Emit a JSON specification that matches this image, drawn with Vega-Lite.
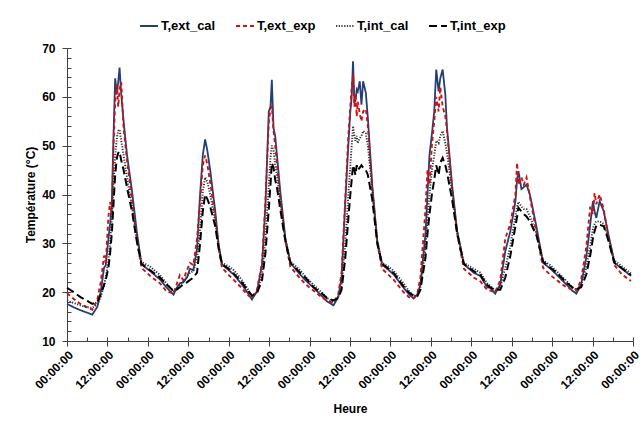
{
  "$schema": "https://vega.github.io/schema/vega-lite/v6.json",
  "width": 566,
  "height": 293,
  "autosize": "none",
  "padding": {"left": 67, "top": 48, "right": 10, "bottom": 89},
  "background": "white",
  "config": {
    "view": {"stroke": null},
    "axis": {
      "labelFont": "Liberation Sans", "labelFontWeight": "bold", "labelFontSize": 12, "labelColor": "black",
      "titleFont": "Liberation Sans", "titleFontWeight": "bold", "titleFontSize": 12, "titleColor": "black",
      "domainColor": "#404040", "tickColor": "#404040", "grid": false
    },
    "legend": {"labelFont": "Liberation Sans", "labelFontWeight": "bold", "labelFontSize": 13, "labelColor": "black"}
  },
  "data": {"values": [
    {"h":0,"T,ext_cal":17.6,"T,ext_exp":19.8,"T,int_cal":18.3,"T,int_exp":20.9},
    {"h":2,"T,ext_cal":16.9,"T,ext_exp":18.6,"T,int_cal":17.8,"T,int_exp":20.0},
    {"h":4,"T,ext_cal":16.3,"T,ext_exp":17.6,"T,int_cal":17.3,"T,int_exp":19.0},
    {"h":6,"T,ext_cal":15.8,"T,ext_exp":16.9,"T,int_cal":16.9,"T,int_exp":18.2},
    {"h":7.5,"T,ext_cal":15.4,"T,ext_exp":16.4,"T,int_cal":16.8,"T,int_exp":17.6},
    {"h":9,"T,ext_cal":17.0,"T,ext_exp":18.5,"T,int_cal":17.5,"T,int_exp":18.0},
    {"h":10,"T,ext_cal":20.0,"T,ext_exp":22.0,"T,int_cal":19.0,"T,int_exp":19.5},
    {"h":11,"T,ext_cal":25.0,"T,ext_exp":27.5,"T,int_cal":21.5,"T,int_exp":21.5},
    {"h":11.5,"T,ext_cal":25.5,"T,ext_exp":26.0,"T,int_cal":23.0,"T,int_exp":22.5},
    {"h":12.3,"T,ext_cal":31.0,"T,ext_exp":35.5,"T,int_cal":26.5,"T,int_exp":25.0},
    {"h":12.8,"T,ext_cal":34.0,"T,ext_exp":38.5,"T,int_cal":30.0,"T,int_exp":28.0},
    {"h":13.3,"T,ext_cal":38.0,"T,ext_exp":36.0,"T,int_cal":35.0,"T,int_exp":32.0},
    {"h":13.8,"T,ext_cal":52.0,"T,ext_exp":50.0,"T,int_cal":42.0,"T,int_exp":38.0},
    {"h":14.3,"T,ext_cal":63.8,"T,ext_exp":59.0,"T,int_cal":48.0,"T,int_exp":44.0},
    {"h":14.8,"T,ext_cal":60.5,"T,ext_exp":62.5,"T,int_cal":51.5,"T,int_exp":47.5},
    {"h":15.2,"T,ext_cal":63.0,"T,ext_exp":58.0,"T,int_cal":53.0,"T,int_exp":48.5},
    {"h":15.6,"T,ext_cal":66.0,"T,ext_exp":61.5,"T,int_cal":53.3,"T,int_exp":48.8},
    {"h":16.1,"T,ext_cal":60.5,"T,ext_exp":63.0,"T,int_cal":51.0,"T,int_exp":47.0},
    {"h":16.8,"T,ext_cal":55.0,"T,ext_exp":53.5,"T,int_cal":48.0,"T,int_exp":45.0},
    {"h":17.8,"T,ext_cal":48.2,"T,ext_exp":47.0,"T,int_cal":43.5,"T,int_exp":41.5},
    {"h":19.3,"T,ext_cal":40.7,"T,ext_exp":39.0,"T,int_cal":37.5,"T,int_exp":36.5},
    {"h":20.7,"T,ext_cal":32.5,"T,ext_exp":31.0,"T,int_cal":31.0,"T,int_exp":30.5},
    {"h":22.1,"T,ext_cal":25.7,"T,ext_exp":25.0,"T,int_cal":26.2,"T,int_exp":25.8},
    {"h":24.7,"T,ext_cal":24.3,"T,ext_exp":23.3,"T,int_cal":25.2,"T,int_exp":24.5},
    {"h":27.6,"T,ext_cal":22.6,"T,ext_exp":21.8,"T,int_cal":23.5,"T,int_exp":23.0},
    {"h":29.5,"T,ext_cal":21.0,"T,ext_exp":20.2,"T,int_cal":21.8,"T,int_exp":21.6},
    {"h":31.6,"T,ext_cal":19.5,"T,ext_exp":19.7,"T,int_cal":20.0,"T,int_exp":20.3},
    {"h":32.5,"T,ext_cal":20.8,"T,ext_exp":21.5,"T,int_cal":20.7,"T,int_exp":20.5},
    {"h":33.5,"T,ext_cal":21.8,"T,ext_exp":23.5,"T,int_cal":21.5,"T,int_exp":21.0},
    {"h":34.5,"T,ext_cal":22.0,"T,ext_exp":22.5,"T,int_cal":22.2,"T,int_exp":21.6},
    {"h":35.6,"T,ext_cal":23.0,"T,ext_exp":24.5,"T,int_cal":23.2,"T,int_exp":22.0},
    {"h":36.5,"T,ext_cal":24.8,"T,ext_exp":26.0,"T,int_cal":24.0,"T,int_exp":22.5},
    {"h":37.5,"T,ext_cal":24.5,"T,ext_exp":25.5,"T,int_cal":24.3,"T,int_exp":23.0},
    {"h":38.6,"T,ext_cal":29.0,"T,ext_exp":31.0,"T,int_cal":27.0,"T,int_exp":24.0},
    {"h":39.5,"T,ext_cal":40.0,"T,ext_exp":38.5,"T,int_cal":33.0,"T,int_exp":30.0},
    {"h":40.3,"T,ext_cal":48.0,"T,ext_exp":46.0,"T,int_cal":40.5,"T,int_exp":36.5},
    {"h":41.0,"T,ext_cal":51.3,"T,ext_exp":48.0,"T,int_cal":43.5,"T,int_exp":40.0},
    {"h":41.7,"T,ext_cal":48.8,"T,ext_exp":46.0,"T,int_cal":42.5,"T,int_exp":39.0},
    {"h":42.5,"T,ext_cal":45.0,"T,ext_exp":42.5,"T,int_cal":40.0,"T,int_exp":37.5},
    {"h":44.0,"T,ext_cal":36.6,"T,ext_exp":35.5,"T,int_cal":34.5,"T,int_exp":33.5},
    {"h":45.0,"T,ext_cal":29.8,"T,ext_exp":29.0,"T,int_cal":29.5,"T,int_exp":29.0},
    {"h":46.0,"T,ext_cal":25.7,"T,ext_exp":25.0,"T,int_cal":26.0,"T,int_exp":25.7},
    {"h":48.0,"T,ext_cal":24.5,"T,ext_exp":23.5,"T,int_cal":25.3,"T,int_exp":24.8},
    {"h":49.5,"T,ext_cal":23.6,"T,ext_exp":22.5,"T,int_cal":24.5,"T,int_exp":23.8},
    {"h":51.9,"T,ext_cal":21.6,"T,ext_exp":20.8,"T,int_cal":22.5,"T,int_exp":22.0},
    {"h":53.5,"T,ext_cal":20.0,"T,ext_exp":19.5,"T,int_cal":20.8,"T,int_exp":20.5},
    {"h":54.9,"T,ext_cal":18.5,"T,ext_exp":18.8,"T,int_cal":19.2,"T,int_exp":19.3},
    {"h":56.4,"T,ext_cal":20.2,"T,ext_exp":20.5,"T,int_cal":20.0,"T,int_exp":19.8},
    {"h":57.9,"T,ext_cal":25.7,"T,ext_exp":26.0,"T,int_cal":23.5,"T,int_exp":22.5},
    {"h":58.9,"T,ext_cal":37.9,"T,ext_exp":38.5,"T,int_cal":31.0,"T,int_exp":28.0},
    {"h":59.9,"T,ext_cal":57.0,"T,ext_exp":55.0,"T,int_cal":42.0,"T,int_exp":37.0},
    {"h":60.4,"T,ext_cal":58.0,"T,ext_exp":57.5,"T,int_cal":47.5,"T,int_exp":42.0},
    {"h":60.8,"T,ext_cal":63.5,"T,ext_exp":58.0,"T,int_cal":50.0,"T,int_exp":46.5},
    {"h":61.3,"T,ext_cal":53.6,"T,ext_exp":53.0,"T,int_cal":49.0,"T,int_exp":45.5},
    {"h":61.8,"T,ext_cal":52.0,"T,ext_exp":50.0,"T,int_cal":46.0,"T,int_exp":43.0},
    {"h":62.3,"T,ext_cal":48.2,"T,ext_exp":46.5,"T,int_cal":44.0,"T,int_exp":41.5},
    {"h":63.3,"T,ext_cal":40.7,"T,ext_exp":39.5,"T,int_cal":38.5,"T,int_exp":37.0},
    {"h":64.8,"T,ext_cal":31.1,"T,ext_exp":30.5,"T,int_cal":31.0,"T,int_exp":30.5},
    {"h":66.3,"T,ext_cal":26.0,"T,ext_exp":25.2,"T,int_cal":26.3,"T,int_exp":26.0},
    {"h":69.2,"T,ext_cal":23.6,"T,ext_exp":22.8,"T,int_cal":24.5,"T,int_exp":24.0},
    {"h":71.0,"T,ext_cal":22.3,"T,ext_exp":21.5,"T,int_cal":23.0,"T,int_exp":22.8},
    {"h":73.2,"T,ext_cal":20.9,"T,ext_exp":20.3,"T,int_cal":21.5,"T,int_exp":21.0},
    {"h":75.5,"T,ext_cal":19.3,"T,ext_exp":19.0,"T,int_cal":20.0,"T,int_exp":19.8},
    {"h":77.2,"T,ext_cal":18.1,"T,ext_exp":18.2,"T,int_cal":18.8,"T,int_exp":18.8},
    {"h":79.1,"T,ext_cal":17.3,"T,ext_exp":17.8,"T,int_cal":18.0,"T,int_exp":18.3},
    {"h":80.5,"T,ext_cal":19.0,"T,ext_exp":19.5,"T,int_cal":19.0,"T,int_exp":18.8},
    {"h":81.5,"T,ext_cal":23.0,"T,ext_exp":24.0,"T,int_cal":21.5,"T,int_exp":20.5},
    {"h":82.6,"T,ext_cal":38.6,"T,ext_exp":39.0,"T,int_cal":30.0,"T,int_exp":27.0},
    {"h":83.5,"T,ext_cal":50.0,"T,ext_exp":52.0,"T,int_cal":40.0,"T,int_exp":35.0},
    {"h":84.1,"T,ext_cal":57.0,"T,ext_exp":58.0,"T,int_cal":46.0,"T,int_exp":40.0},
    {"h":84.5,"T,ext_cal":60.0,"T,ext_exp":62.0,"T,int_cal":50.0,"T,int_exp":43.0},
    {"h":84.9,"T,ext_cal":67.3,"T,ext_exp":64.5,"T,int_cal":54.0,"T,int_exp":46.0},
    {"h":85.3,"T,ext_cal":59.0,"T,ext_exp":58.0,"T,int_cal":52.0,"T,int_exp":45.0},
    {"h":85.6,"T,ext_cal":59.1,"T,ext_exp":60.5,"T,int_cal":51.0,"T,int_exp":44.0},
    {"h":86.0,"T,ext_cal":61.5,"T,ext_exp":56.0,"T,int_cal":52.0,"T,int_exp":46.0},
    {"h":86.3,"T,ext_cal":61.1,"T,ext_exp":59.0,"T,int_cal":50.5,"T,int_exp":45.0},
    {"h":86.9,"T,ext_cal":63.2,"T,ext_exp":56.5,"T,int_cal":51.5,"T,int_exp":45.5},
    {"h":87.4,"T,ext_cal":58.4,"T,ext_exp":55.0,"T,int_cal":52.0,"T,int_exp":46.0},
    {"h":87.9,"T,ext_cal":63.2,"T,ext_exp":57.0,"T,int_cal":53.0,"T,int_exp":45.5},
    {"h":88.7,"T,ext_cal":60.8,"T,ext_exp":57.5,"T,int_cal":52.5,"T,int_exp":45.0},
    {"h":89.3,"T,ext_cal":55.7,"T,ext_exp":54.0,"T,int_cal":50.0,"T,int_exp":44.0},
    {"h":90.6,"T,ext_cal":42.0,"T,ext_exp":41.0,"T,int_cal":41.0,"T,int_exp":39.0},
    {"h":92.1,"T,ext_cal":30.4,"T,ext_exp":30.0,"T,int_cal":30.5,"T,int_exp":30.0},
    {"h":93.5,"T,ext_cal":25.7,"T,ext_exp":24.8,"T,int_cal":26.0,"T,int_exp":25.8},
    {"h":95.5,"T,ext_cal":24.5,"T,ext_exp":23.5,"T,int_cal":25.2,"T,int_exp":24.8},
    {"h":97.0,"T,ext_cal":23.6,"T,ext_exp":22.5,"T,int_cal":24.3,"T,int_exp":23.9},
    {"h":99.9,"T,ext_cal":20.9,"T,ext_exp":20.0,"T,int_cal":21.8,"T,int_exp":21.2},
    {"h":101.5,"T,ext_cal":19.6,"T,ext_exp":19.0,"T,int_cal":20.2,"T,int_exp":19.9},
    {"h":102.9,"T,ext_cal":18.7,"T,ext_exp":18.8,"T,int_cal":19.2,"T,int_exp":19.3},
    {"h":104.0,"T,ext_cal":19.5,"T,ext_exp":19.8,"T,int_cal":19.5,"T,int_exp":19.2},
    {"h":104.9,"T,ext_cal":21.6,"T,ext_exp":23.0,"T,int_cal":21.0,"T,int_exp":20.5},
    {"h":106.4,"T,ext_cal":31.8,"T,ext_exp":37.0,"T,int_cal":29.0,"T,int_exp":27.0},
    {"h":107.0,"T,ext_cal":40.0,"T,ext_exp":45.0,"T,int_cal":35.0,"T,int_exp":32.0},
    {"h":107.6,"T,ext_cal":48.2,"T,ext_exp":42.0,"T,int_cal":40.0,"T,int_exp":36.0},
    {"h":108.3,"T,ext_cal":52.3,"T,ext_exp":50.0,"T,int_cal":45.0,"T,int_exp":40.0},
    {"h":109.0,"T,ext_cal":57.0,"T,ext_exp":55.0,"T,int_cal":48.0,"T,int_exp":43.0},
    {"h":109.6,"T,ext_cal":65.6,"T,ext_exp":60.0,"T,int_cal":51.0,"T,int_exp":46.0},
    {"h":110.3,"T,ext_cal":61.1,"T,ext_exp":57.0,"T,int_cal":50.5,"T,int_exp":44.0},
    {"h":110.8,"T,ext_cal":63.8,"T,ext_exp":62.0,"T,int_cal":52.0,"T,int_exp":46.5},
    {"h":111.5,"T,ext_cal":65.6,"T,ext_exp":58.0,"T,int_cal":53.0,"T,int_exp":47.5},
    {"h":112.3,"T,ext_cal":60.4,"T,ext_exp":56.0,"T,int_cal":50.5,"T,int_exp":46.0},
    {"h":112.8,"T,ext_cal":53.6,"T,ext_exp":53.0,"T,int_cal":48.5,"T,int_exp":44.5},
    {"h":114.3,"T,ext_cal":42.0,"T,ext_exp":41.0,"T,int_cal":40.5,"T,int_exp":39.0},
    {"h":115.8,"T,ext_cal":32.5,"T,ext_exp":32.0,"T,int_cal":32.5,"T,int_exp":32.0},
    {"h":117.8,"T,ext_cal":25.7,"T,ext_exp":24.8,"T,int_cal":26.0,"T,int_exp":25.8},
    {"h":120.7,"T,ext_cal":24.0,"T,ext_exp":23.0,"T,int_cal":24.8,"T,int_exp":24.3},
    {"h":122.7,"T,ext_cal":23.3,"T,ext_exp":22.2,"T,int_cal":24.0,"T,int_exp":23.5},
    {"h":124.7,"T,ext_cal":21.0,"T,ext_exp":20.5,"T,int_cal":21.8,"T,int_exp":21.5},
    {"h":125.6,"T,ext_cal":20.9,"T,ext_exp":20.3,"T,int_cal":21.3,"T,int_exp":21.0},
    {"h":127.1,"T,ext_cal":19.7,"T,ext_exp":20.0,"T,int_cal":20.3,"T,int_exp":20.5},
    {"h":128.6,"T,ext_cal":21.6,"T,ext_exp":22.5,"T,int_cal":21.0,"T,int_exp":20.5},
    {"h":130.1,"T,ext_cal":28.4,"T,ext_exp":31.0,"T,int_cal":25.0,"T,int_exp":23.0},
    {"h":131.6,"T,ext_cal":32.5,"T,ext_exp":34.0,"T,int_cal":29.5,"T,int_exp":27.5},
    {"h":133.1,"T,ext_cal":38.6,"T,ext_exp":40.0,"T,int_cal":35.5,"T,int_exp":33.5},
    {"h":133.6,"T,ext_cal":43.0,"T,ext_exp":46.5,"T,int_cal":37.5,"T,int_exp":35.5},
    {"h":134.0,"T,ext_cal":44.8,"T,ext_exp":42.0,"T,int_cal":38.5,"T,int_exp":37.3},
    {"h":134.9,"T,ext_cal":41.1,"T,ext_exp":43.5,"T,int_cal":37.5,"T,int_exp":36.5},
    {"h":135.6,"T,ext_cal":41.5,"T,ext_exp":42.0,"T,int_cal":37.0,"T,int_exp":36.0},
    {"h":136.4,"T,ext_cal":42.0,"T,ext_exp":43.5,"T,int_cal":37.0,"T,int_exp":35.5},
    {"h":137.4,"T,ext_cal":40.0,"T,ext_exp":39.5,"T,int_cal":35.5,"T,int_exp":34.5},
    {"h":139.4,"T,ext_cal":33.2,"T,ext_exp":32.0,"T,int_cal":32.0,"T,int_exp":31.5},
    {"h":141.3,"T,ext_cal":26.0,"T,ext_exp":25.0,"T,int_cal":26.5,"T,int_exp":26.3},
    {"h":143.5,"T,ext_cal":24.8,"T,ext_exp":23.5,"T,int_cal":25.5,"T,int_exp":25.0},
    {"h":145.3,"T,ext_cal":23.6,"T,ext_exp":22.5,"T,int_cal":24.3,"T,int_exp":24.0},
    {"h":148.2,"T,ext_cal":21.6,"T,ext_exp":21.0,"T,int_cal":22.3,"T,int_exp":22.0},
    {"h":150.0,"T,ext_cal":20.3,"T,ext_exp":20.5,"T,int_cal":21.0,"T,int_exp":21.0},
    {"h":151.2,"T,ext_cal":19.7,"T,ext_exp":20.3,"T,int_cal":20.5,"T,int_exp":20.6},
    {"h":152.6,"T,ext_cal":21.6,"T,ext_exp":22.5,"T,int_cal":21.5,"T,int_exp":21.0},
    {"h":154.1,"T,ext_cal":27.0,"T,ext_exp":29.0,"T,int_cal":25.0,"T,int_exp":23.5},
    {"h":155.3,"T,ext_cal":33.8,"T,ext_exp":37.5,"T,int_cal":29.5,"T,int_exp":27.5},
    {"h":156.1,"T,ext_cal":38.6,"T,ext_exp":36.0,"T,int_cal":33.0,"T,int_exp":31.0},
    {"h":156.6,"T,ext_cal":36.5,"T,ext_exp":40.3,"T,int_cal":34.0,"T,int_exp":32.5},
    {"h":157.1,"T,ext_cal":35.2,"T,ext_exp":38.0,"T,int_cal":34.5,"T,int_exp":33.6},
    {"h":158.1,"T,ext_cal":38.6,"T,ext_exp":40.0,"T,int_cal":34.5,"T,int_exp":33.8},
    {"h":159.3,"T,ext_cal":36.6,"T,ext_exp":37.0,"T,int_cal":34.0,"T,int_exp":33.5},
    {"h":160.5,"T,ext_cal":32.5,"T,ext_exp":32.0,"T,int_cal":31.5,"T,int_exp":31.0},
    {"h":162.5,"T,ext_cal":26.0,"T,ext_exp":25.5,"T,int_cal":26.5,"T,int_exp":26.0},
    {"h":164.9,"T,ext_cal":24.7,"T,ext_exp":23.5,"T,int_cal":25.2,"T,int_exp":24.8},
    {"h":167.4,"T,ext_cal":23.3,"T,ext_exp":22.3,"T,int_cal":23.8,"T,int_exp":23.5}
  ]},
  "transform": [
    {"fold": ["T,ext_cal", "T,ext_exp", "T,int_cal", "T,int_exp"], "as": ["serie", "temp"]}
  ],
  "layer": [
    {
      "mark": {"type": "line", "opacity": 0},
      "encoding": {
        "x": {"field": "h", "type": "quantitative", "scale": {"domain": [0, 168], "nice": false},
          "axis": {"orient": "bottom", "values": [0,6,12,18,24,30,36,42,48,54,60,66,72,78,84,90,96,102,108,114,120,126,132,138,144,150,156,162,168],
            "tickSize": -4, "labels": false, "domain": false, "title": null}},
        "y": {"field": "temp", "type": "quantitative", "scale": {"domain": [10, 70], "nice": false},
          "axis": {"orient": "left", "values": [10,12,14,16,18,20,22,24,26,28,30,32,34,36,38,40,42,44,46,48,50,52,54,56,58,60,62,64,66,68,70],
            "tickSize": -4, "labels": false, "domain": false, "title": null}},
        "detail": {"field": "serie"}
      }
    },
    {
      "mark": {"type": "line", "interpolate": "linear"},
      "encoding": {
        "x": {"field": "h", "type": "quantitative", "scale": {"domain": [0, 168], "nice": false},
          "axis": {"orient": "bottom", "values": [0,12,24,36,48,60,72,84,96,108,120,132,144,156,168],
            "labelExpr": "datum.value % 24 == 0 ? '00:00:00' : '12:00:00'", "labelOverlap": false, "labelBound": false,
            "labelAngle": -45, "tickSize": 5, "labelPadding": 3, "title": "Heure", "titlePadding": 13}},
        "y": {"field": "temp", "type": "quantitative", "scale": {"domain": [10, 70], "nice": false},
          "axis": {"orient": "left", "values": [10,20,30,40,50,60,70], "tickSize": 5, "labelPadding": 7,
            "title": "Température (°C)", "titlePadding": 4}},
        "color": {"field": "serie", "type": "nominal",
          "scale": {"domain": ["T,ext_cal", "T,ext_exp", "T,int_cal", "T,int_exp"], "range": ["#243F73", "#D01010", "#333333", "#000000"]},
          "legend": {"title": null, "orient": "none", "legendX": 72, "legendY": -32, "direction": "horizontal",
            "symbolType": "stroke", "symbolSize": 320, "labelOffset": 2, "columnPadding": 16}},
        "strokeDash": {"field": "serie", "type": "nominal",
          "scale": {"domain": ["T,ext_cal", "T,ext_exp", "T,int_cal", "T,int_exp"], "range": [[1, 0], [4, 3], [1.2, 1.5], [8, 4]]}},
        "strokeWidth": {"field": "serie", "type": "nominal",
          "scale": {"domain": ["T,ext_cal", "T,ext_exp", "T,int_cal", "T,int_exp"], "range": [1.8, 2, 1.2, 1.6]}}
      }
    }
  ],
  "resolve": {"axis": {"x": "independent", "y": "independent"}}
}
